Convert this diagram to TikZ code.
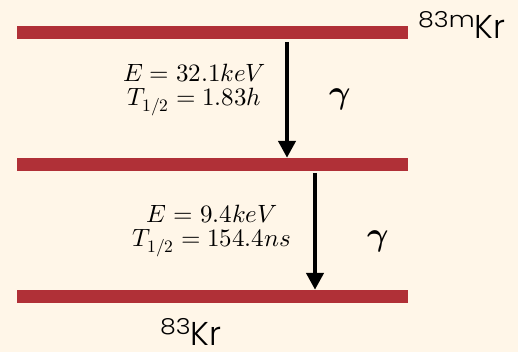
\documentclass[tikz,border=0pt]{standalone}
\usepackage{amsmath,amssymb}
\usepackage{fontspec}
\usepackage{unicode-math}
\setmathfont{Latin Modern Math}
\newfontfamily\isofont{Poppins Light}
\newfontfamily\massfont{Poppins Light}[FakeStretch=1.15]
\usetikzlibrary{positioning,arrows.meta}
\usepackage{xcolor}
\definecolor{cream}{HTML}{FFF6E8}
\definecolor{levelred}{HTML}{B03037}
\newcommand{\isotope}[2]{\raisebox{11pt}{\massfont\fontsize{22}{22}\selectfont #1}\isofont\fontsize{33}{33}\selectfont #2}

\begin{document}
\begin{tikzpicture}[x=1pt,y=-1pt,>={Triangle[length=17pt,width=17pt]},
  level/.style={fill=levelred,minimum width=391pt,minimum height=13pt,inner sep=0pt,anchor=west},
  decay/.style={->,line width=4.5pt},
  info/.style={align=center,font=\fontsize{25}{24}\selectfont,inner sep=0pt},
  gam/.style={font=\fontsize{33}{33}\selectfont,inner sep=0pt},
  iso/.style={anchor=base west,inner sep=0pt}]
\fill[cream] (0,0) rectangle (518,352);
\useasboundingbox (0,0) rectangle (518,352);
% energy levels
\node[level] (top) at (17,32.5) {};
\node[level] (mid) at (17,164.5) {};
\node[level] (bot) at (17,296.5) {};
% transitions
\coordinate (s1) at (287,42);
\coordinate (s2) at (315,173);
\draw[decay] (s1) -- (s1 |- mid.north);
\draw[decay] (s2) -- (s2 |- bot.north);
\node[info] (t1) at (194.5,90) {$E = 32.1keV$\\ $T_{1/2} = 1.83h$};
\node[info] (t2) at (212,231) {$E = 9.4keV$\\ $T_{1/2} = 154.4ns$};
\node[gam] (g1) at (340,100) {$\symbfit{\gamma}$};
\node[gam] (g2) at (378,242) {$\symbfit{\gamma}$};
% isotopes
\node[iso] (kr83m) at (418,39) {\isotope{83m}{Kr}};
\node[iso] (kr83) at (160,345) {\isotope{83}{Kr}};
\end{tikzpicture}
\end{document}
